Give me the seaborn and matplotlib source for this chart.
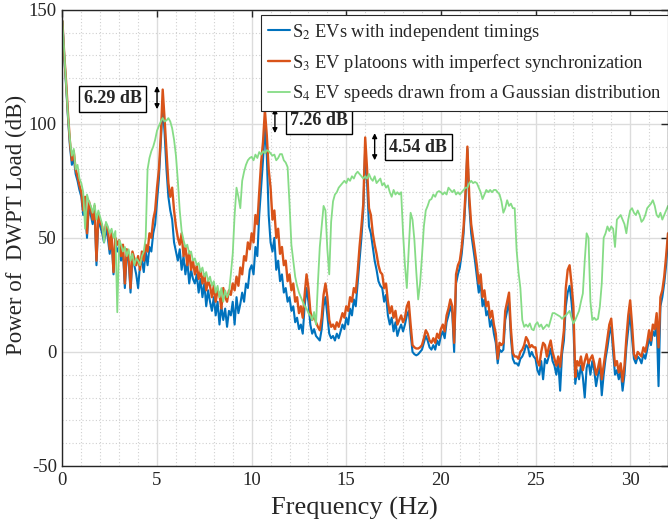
import numpy as np
import pandas as pd
import matplotlib
matplotlib.use("Agg")
import matplotlib.pyplot as plt
import seaborn as sns

# Frequency grid (Hz), 0.1 Hz spacing
freq = np.round(np.arange(321) * 0.1, 1)

s2_independent = [
    145, 129, 116, 102, 90, 82, 85, 78, 75, 71,
    68, 60, 66, 50, 64, 60, 56, 62, 38, 58,
    55, 52, 48, 54, 50, 43, 50, 34, 48, 44,
    46, 40, 44, 28, 42, 40, 26, 41, 38, 34,
    28, 38, 40, 35, 44, 38, 46, 44, 52, 56,
    66, 76, 92, 108, 96, 80, 68, 62, 58, 48,
    44, 40, 45, 36, 42, 34, 40, 30, 36, 32,
    30, 34, 26, 32, 24, 30, 20, 27, 22, 18,
    24, 16, 22, 12, 20, 14, 19, 11, 18, 16,
    22, 12, 24, 17, 21, 26, 22, 30, 28, 36,
    38, 34, 46, 42, 60, 72, 84, 99, 86, 60,
    48, 44, 50, 36, 40, 31, 34, 26, 28, 22,
    24, 18, 20, 13, 15, 10, 12, 8, 20, 28,
    22, 12, 8, 10, 7, 6, 5, 10, 20, 24,
    16, 8, 6, 7, 5, 8, 6, 9, 12, 10,
    15, 12, 19, 16, 23, 20, 30, 40, 50, 62,
    89.5, 74, 55, 52, 46, 40, 36, 31, 29, 28,
    22, 25, 16, 12, 15, 9, 13, 7, 10, 12,
    9, 12, 16, 18, 8, 0, -1, -1.5, -1, 0,
    1, 4, 7, 5, 2, 1, 3, 1, 5, 3,
    7, 9, 6, 13, 16, 20, 17, 0, 30, 34,
    37, 43, 52, 67, 89, 64, 52, 46, 40, 33,
    26, 30, 20, 23, 16, 18, 11, 14, 8, 4,
    -5, 1, 0, 1, 14, 18, 22, 6, -3, -5,
    -5, -6, -3, -2, 0, 3, 2, -2, 0, -2,
    -3, -8, -10, -4, -12, -3, -5, -2, 1.5, -4,
    -6, -10, -4, -17, -1, 5, 20, 26, 29, 22,
    12, -14, -8, -12, -6, -11, -20, -7, -4, -10,
    -4, -8, -15, -10, -6, -19, -10, -3, 2, 8,
    11, 0, -10, -8, -12, -8, -17, -10, 2, 10,
    17, 6, -3, -5, -2, -3, -5, -1, -3, 1,
    6, 3, 9, 7, 14, -15, 20, 24, 30, 38,
    50,
]

s3_platoons = [
    145, 130, 118, 104, 92, 84, 88, 80, 77, 73,
    70, 62, 68, 52, 66, 63, 58, 64, 40, 60,
    57, 55, 50, 56, 54, 45, 52, 35, 50, 47,
    49, 42, 47, 30, 45, 43, 28, 44, 41, 38,
    42, 36, 44, 40, 47, 44, 52, 50, 58, 62,
    72, 80, 95, 115, 102, 88, 74, 68, 72, 62,
    55, 50, 47, 52, 42, 46, 38, 44, 36, 40,
    34, 38, 32, 36, 30, 34, 27, 31, 29, 24,
    29, 22, 27, 25, 19, 28, 24, 22, 27, 25,
    30, 27, 33, 29, 37, 34, 42, 40, 48, 45,
    52, 48, 60, 56, 70, 83, 92, 106, 95, 80,
    72, 58, 62, 50, 54, 43, 46, 38, 40, 31,
    34, 27, 30, 22, 24, 17, 20, 15, 25, 34,
    28, 18, 14, 16, 13, 11, 9.5, 15, 25, 30,
    24, 14, 11, 12, 10, 13, 11, 14, 17, 15,
    20, 18, 24, 22, 28, 26, 35, 46, 55, 65,
    94, 80, 63, 60, 52, 47, 43, 38, 35, 34,
    28, 30, 22, 17, 20, 15, 18, 12, 14, 16,
    13, 15, 20, 22, 12, 3, 2, 1.5, 1.5, 2,
    3, 6, 9.5, 8, 5, 4, 6, 4, 8, 6,
    10, 12, 9, 16, 19, 23, 20, 4, 34, 38,
    40, 46, 55, 70, 90, 68, 56, 50, 44, 38,
    30, 34, 24, 27, 20, 22, 15, 18, 12, 8,
    -3, 4, 3, 4, 18, 22, 26, 10, -0.5, -2,
    -2, -3, 0, 1, 3, 6.5, 5, 2, 3, 2,
    2, -4, -6, 0, 4, 3, -2, 2, 5, 0,
    -3, -6, -2, -6.5, 2, 9.5, 28, 36, 38, 30,
    20, -11, -4, -6, -2, -8, -4, -1, -5, -3,
    -1.5, -5, -10, -7, -3, -12, -6, 0, 6, 12,
    14.6, 4, -6, -4, -9, -5, -13, -6, 6, 16,
    22.6, 12, -1, -3, 0, -1, -2, 2, 0, 4,
    9.5, 5, 12, 10, 17, 2, 24, 27, 33, 42,
    52,
]

s4_gaussian = [
    145, 131, 117, 103, 93, 86, 89, 80, 82, 76,
    74, 70, 54, 69, 66, 64, 61, 65, 58, 62,
    59, 56, 48, 57, 55, 52, 54, 50, 53, 17.4,
    49, 47, 44, 46, 42, 45, 40, 43, 38, 41,
    40, 38, 42, 44, 50, 80, 85, 88, 90, 93,
    97, 99, 101, 102.5, 101, 101.5, 102.5, 101, 98, 93,
    86, 75, 62, 53, 49, 46, 47, 43, 44, 40,
    41, 38, 39, 35, 37, 33, 35, 31, 33, 29,
    31, 26, 29, 24, 28, 22, 27, 24, 26, 34,
    43, 60, 72, 68, 63, 75, 79, 82, 84, 85,
    85.5, 84, 86.5, 85, 87.6, 86.5, 88, 87, 88.4, 88,
    87, 86, 86.5, 84, 85, 86.7, 86.7, 84, 83, 81,
    65, 47, 40, 33, 29, 26, 24, 22, 20, 19,
    17, 16, 14, 17.5, 12, 30, 46, 55, 64, 62,
    45, 34, 57, 66, 69, 70, 72, 73, 74, 75,
    74, 76, 75, 77, 76, 78, 79, 78, 77, 76,
    77, 76, 78, 76, 75, 77, 74, 75, 76, 73,
    74, 72, 73, 70, 68, 71, 69, 70, 69, 70,
    52, 38, 28, 45, 61, 58, 49, 35, 23, 30,
    42, 55, 62, 64, 66.5, 67, 69, 68, 70, 70.5,
    70, 69, 70, 69, 72, 71, 70, 71, 69, 70,
    69, 70, 71, 72, 72, 74, 75, 74, 74.5, 74,
    72, 70, 67, 69, 71, 70, 71, 70, 71, 71,
    70, 69, 66, 61, 63, 66.5, 64, 65, 63, 63,
    44.6, 35, 28, 14, 11, 12, 11, 12.5, 10, 9.5,
    12, 13, 11, 12, 10, 11, 12, 11, 14, 17,
    17, 16.5, 16, 15.5, 14.5, 15.5, 16, 17, 18, 15,
    12.5, 14, 16, 18, 22, 25.6, 40, 52, 50, 22,
    14, 15, 14, 14.5, 20, 30, 50, 52, 55, 53,
    55, 54, 46, 58, 59, 60, 58, 56, 52, 58,
    62, 63, 61, 60, 62, 60, 57, 58, 60, 63,
    64, 65, 66.5, 64, 60, 59, 61, 58, 60, 62,
    64,
]

labels = [
    "S$_2$ EVs with independent timings",
    "S$_3$ EV platoons with imperfect synchronization",
    "S$_4$ EV speeds drawn from a Gaussian distribution",
]
annot_text = ["6.29 dB", "7.26 dB", "4.54 dB"]
annot_arrow_x = [5.0, 11.23, 16.5]
annot_arrow_y = [(116.5, 106.4), (106.8, 95.9), (95.9, 84.0)]
annot_text_xy = [(2.67, 111.0), (13.56, 101.4), (18.8, 89.8)]

sns.set_style("white")
plt.rcParams["font.family"] = ["Liberation Serif", "DejaVu Serif"]
plt.rcParams["mathtext.fontset"] = "stix"
plt.rcParams["axes.unicode_minus"] = False

df = pd.DataFrame({"f": freq, "S2": s2_independent, "S3": s3_platoons, "S4": s4_gaussian})

fig = plt.figure(figsize=(6.68, 5.2), dpi=100)
ax = fig.add_axes([62.4 / 668, 1 - 466 / 520, 1 - 62.4 / 668, (466 - 9.7) / 520])

colors = ["#0072BD", "#D95319", "#86DC86"]
widths = [1.5, 1.7, 1.3]
for col, c, w, lab in zip(["S2", "S3", "S4"], colors, widths, labels):
    sns.lineplot(data=df, x="f", y=col, ax=ax, color=c, linewidth=w, label=lab,
                 estimator=None, sort=False)

ax.set_xlim(0, 32)
ax.set_ylim(-50, 150)
ax.set_xticks([0, 5, 10, 15, 20, 25, 30])
ax.set_yticks([-50, 0, 50, 100, 150])
ax.set_xticks(np.arange(0, 33, 1), minor=True)
ax.set_yticks(np.arange(-50, 151, 10), minor=True)
ax.grid(True, which="major", color="#dcdcdc", linewidth=1.0, linestyle="-")
ax.grid(True, which="minor", color="#d0d0d0", linewidth=0.8, linestyle=(0, (1, 2)))
ax.set_axisbelow(True)
ax.tick_params(which="major", direction="in", length=5, width=1, top=True, right=True,
               labelsize=13.5, colors="#262626", labelcolor="#262626", pad=4)
ax.tick_params(which="minor", length=0)
for s in ax.spines.values():
    s.set_color("#262626")
    s.set_linewidth(1.0)

ax.set_xlabel("Frequency (Hz)", fontsize=19, color="#262626")
ax.set_ylabel("Power of  DWPT Load (dB)", fontsize=16.5, color="#262626")
ax.xaxis.set_label_coords(0.482, -0.067)
ax.yaxis.set_label_coords(-0.058, 0.528)

leg = ax.legend(loc="upper right", bbox_to_anchor=(1.0, 0.988), borderaxespad=0,
                fontsize=13.3, handlelength=1.2, handletextpad=0.1, labelspacing=0.47,
                borderpad=0.36, fancybox=False, framealpha=1, edgecolor="#262626")
leg.get_frame().set_linewidth(0.8)

for txt, ax_x, (y1, y2), (tx, ty) in zip(annot_text, annot_arrow_x, annot_arrow_y, annot_text_xy):
    ax.annotate("", xy=(ax_x, y1), xytext=(ax_x, y2),
                arrowprops=dict(arrowstyle="<|-|>", color="black", lw=1.0,
                                mutation_scale=7, shrinkA=0, shrinkB=0))
    ax.text(tx, ty, txt, ha="center", va="center", fontsize=13, fontweight="bold",
            bbox=dict(boxstyle="square,pad=0.25", facecolor="white", edgecolor="black", linewidth=1.0))

fig.savefig("out.png", dpi=100)
